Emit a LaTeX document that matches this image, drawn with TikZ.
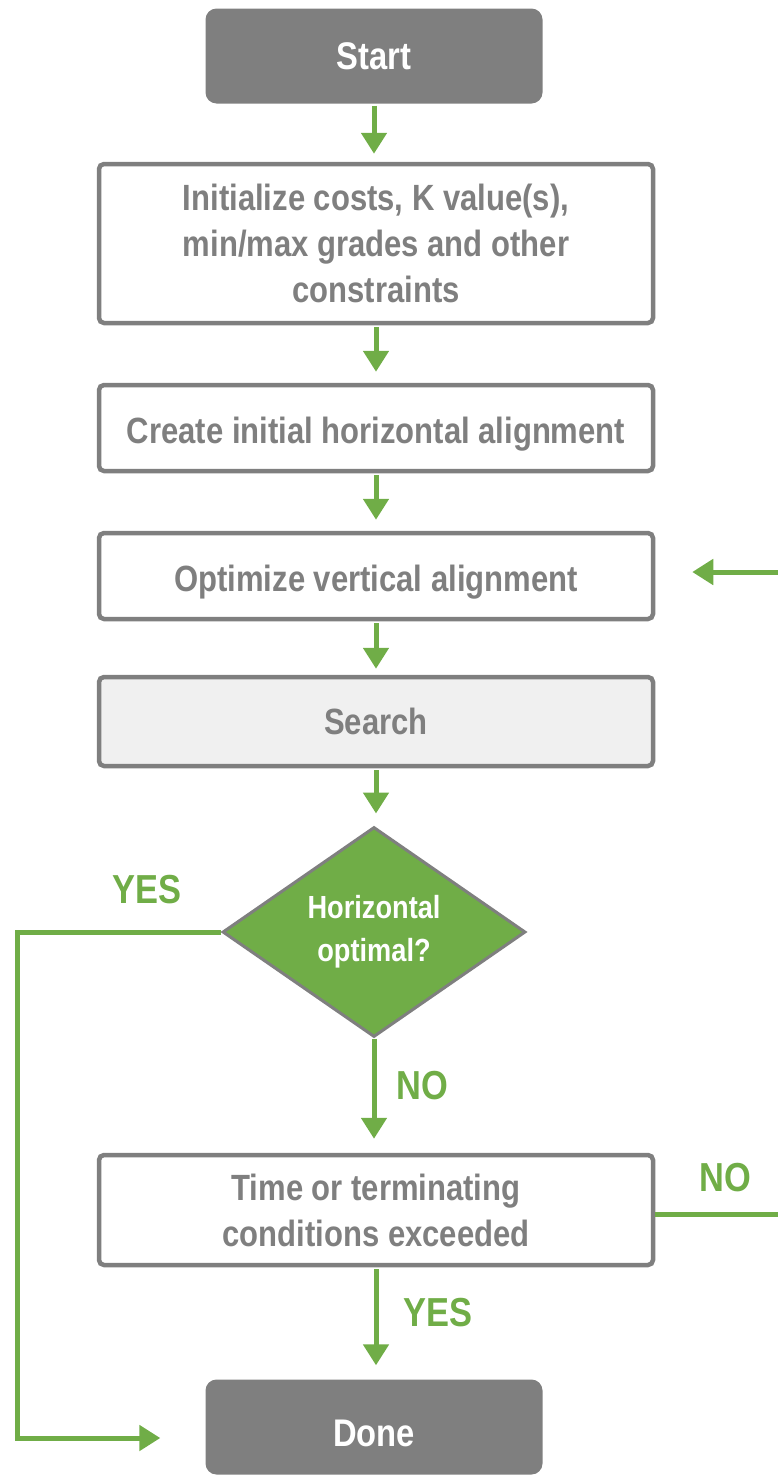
\documentclass[tikz,border=0pt]{standalone}
\usepackage{fontspec}
\newfontfamily\cond{Liberation Sans}[FakeStretch=0.85]
\usetikzlibrary{arrows.meta,shapes.geometric}
\definecolor{gr}{HTML}{7F7F7F}
\definecolor{gn}{HTML}{70AD47}
\definecolor{lg}{HTML}{F0F0F0}
\newcommand\lowered[2]{\raisebox{-#1}[0pt][0pt]{#2}}
\begin{document}
\begin{tikzpicture}[x=1pt,y=-1pt,
  box/.style={draw=gr, line width=4.5pt, rounded corners=5pt, fill=white, minimum width=554pt,
    text=gr, font=\cond\bfseries\fontsize{36.5}{46}\selectfont, align=center, inner sep=0pt},
  term/.style={fill=gr, rounded corners=11pt, minimum width=337pt, minimum height=95pt,
    text=white, font=\cond\bfseries\fontsize{38.5}{40}\selectfont, inner sep=0pt},
  dec/.style={diamond, draw=gr, line width=3pt, fill=gn, minimum width=303pt, minimum height=210pt,
    text=white, font=\cond\bfseries\fontsize{32}{43}\selectfont, align=center, inner sep=0pt},
  conn/.style={draw=gn, line width=5pt},
  arr/.style={conn, -{Triangle[length=21pt,width=25pt]}},
  lab/.style={text=gn, font=\cond\bfseries\fontsize{40.5}{44}\selectfont, inner sep=0pt}]
\useasboundingbox (0,0) rectangle (778,1475);
\node[term] (start) at (374,56) {Start};
\node[box, minimum height=159pt] (init) at (376,243.5) {Initialize costs, K value(s),\\min/max grades and other\\constraints};
\node[box, minimum height=86pt] (create) at (376,428) {\lowered{15pt}{Create initial horizontal alignment}};
\node[box, minimum height=86pt] (opt) at (376,576) {\lowered{15pt}{Optimize vertical alignment}};
\node[box, minimum height=89pt, fill=lg] (search) at (376,721.5) {Search};
\node[dec] (hor) at (374,932) {Horizontal\\optimal?};
\node[box, minimum height=110pt] (time) at (376,1210) {Time or terminating\\conditions exceeded};
\node[term] (done) at (374,1427) {\lowered{19pt}{Done}};
\coordinate (loopR) at (778,572);
\coordinate (timeR) at (778,1214);
\coordinate (yesX) at (17,932);
\draw[arr, shorten <=2pt, shorten >=8pt] (start.south) -- (start.south |- init.north);
\draw[arr, shorten <=2pt, shorten >=11pt] (init.south) -- (create.north);
\draw[arr, shorten <=2pt, shorten >=11pt] (create.south) -- (opt.north);
\draw[arr, shorten <=2pt, shorten >=6pt] (opt.south) -- (search.north);
\draw[arr, shorten <=2pt, shorten >=12pt] (search.south) -- (search.south |- hor.north);
\draw[arr, shorten <=0pt, shorten >=14pt] (hor.south) -- (hor.south |- time.north);
\draw[arr, shorten <=2pt, shorten >=14pt] (time.south) -- (time.south |- done.north);
\draw[arr, shorten >=37pt] (loopR) -- (opt.east |- loopR);
\draw[conn] (time.east |- timeR) -- (timeR);
\draw[arr, shorten >=45pt] (hor.west) -- (yesX) |- ([yshift=-11pt]done.west);
\node[lab] (yes1) at (147,890) {YES};
\node[lab] (no1) at (422,1086) {NO};
\node[lab] (no2) at (725,1178) {NO};
\node[lab] (yes2) at (438,1313) {YES};
\end{tikzpicture}
\end{document}
